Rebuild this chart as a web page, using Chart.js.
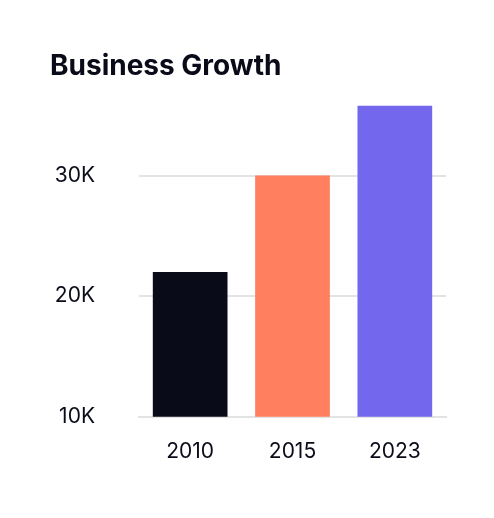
<!DOCTYPE html>
<html>
<head>
<meta charset="utf-8">
<script src="https://cdn.jsdelivr.net/npm/chart.js@4"></script>
<style>
  html, body { margin: 0; padding: 0; background: #fff; }
  #wrap { width: 494px; height: 518px; }
</style>
</head>
<body>
<div id="wrap"><canvas id="growthChart"></canvas></div>
<script>
const years = ["2010", "2015", "2023"];
const revenue = [22000, 30000, 35800];
const barColors = ["#0a0b18", "#ff7f5e", "#7367ee"];
const yTicks = [10000, 20000, 30000];

const chart = new Chart(document.getElementById("growthChart").getContext("2d"), {
  type: "bar",
  data: {
    labels: years,
    datasets: [{
      data: revenue,
      backgroundColor: barColors,
      borderWidth: 0,
      barPercentage: 0.73,
      categoryPercentage: 1,
    }],
  },
  options: {
    responsive: true,
    maintainAspectRatio: false,
    animation: false,
    layout: { padding: { left: 50, right: 48, bottom: 40 } },
    plugins: {
      legend: { display: false },
      tooltip: { enabled: false },
      title: {
        display: true,
        text: "Business Growth",
        align: "start",
        color: "#0a0b18",
        font: { family: "Inter", size: 28, weight: "bold" },
        padding: { top: 50, bottom: 22 },
      },
    },
    scales: {
      x: {
        grid: { display: false },
        border: { color: "#e3e3e3", width: 2 },
        ticks: { color: "#0a0b18", font: { family: "Inter", size: 21 }, padding: 14 },
      },
      y: {
        min: 10000,
        max: 35800,
        afterBuildTicks: (scale) => { scale.ticks = yTicks.map(v => ({ value: v })); },
        afterFit: (scale) => { scale.width = 89; },
        grid: { color: "#e3e3e3", lineWidth: 2, drawTicks: false },
        border: { display: false },
        ticks: {
          color: "#0a0b18",
          font: { family: "Inter", size: 21 },
          padding: 44,
          callback: (v) => (v / 1000) + "K",
        },
      },
    },
  },
});
</script>
</body>
</html>
